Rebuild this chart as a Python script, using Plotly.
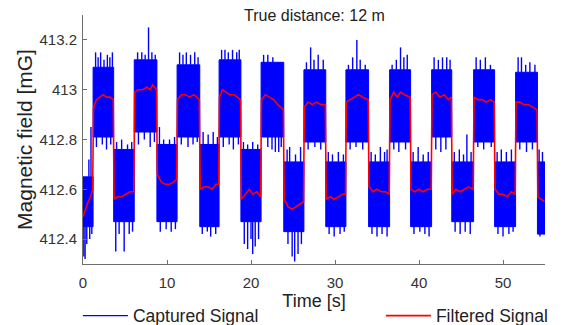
import numpy as np
import plotly.graph_objects as go

# ---- data ----
# segment boundaries (s): the captured signal alternates low / high levels
switch_t = [0.0, 1.2, 3.65, 6.1, 8.8, 11.2, 13.9, 16.2, 18.8, 21.2, 23.9, 26.3,
            28.9, 31.3, 34.0, 36.5, 39.0, 41.5, 43.9, 46.5, 49.0, 51.5, 54.1, 55.0]
# dense part of the captured signal in each segment (mG)
band_top = [412.65, 413.09, 412.76, 413.12, 412.78, 413.10, 412.78, 413.12, 412.76,
            413.11, 412.71, 413.08, 412.71, 413.08, 412.71, 413.08, 412.71, 413.08,
            412.71, 413.08, 412.71, 413.07, 412.71]
band_bot = [412.45, 412.81, 412.47, 412.83, 412.47, 412.81, 412.45, 412.81, 412.47,
            412.81, 412.43, 412.79, 412.45, 412.79, 412.45, 412.79, 412.45, 412.81,
            412.47, 412.79, 412.45, 412.79, 412.42]
# isolated excursions of the captured signal (time s, value mG)
spike_t = [0.7, 0.95, 0.1, 0.25, 0.45, 0.8, 1.05,
           1.5, 1.8, 2.1, 2.5, 2.9, 3.2, 3.5, 1.6, 2.3, 2.8, 3.3,
           4.0, 4.6, 5.3, 5.8, 3.9, 4.3, 4.9, 5.5, 5.9,
           6.5, 7.0, 7.4, 7.8, 8.2, 8.6, 6.6, 7.3, 8.0, 8.5,
           9.1, 9.6, 10.3, 10.9, 9.2, 9.9, 10.5, 11.0,
           11.5, 11.9, 12.3, 12.8, 13.3, 13.7, 11.7, 12.5, 13.1, 13.6,
           14.3, 14.9, 15.5, 16.0, 14.2, 14.8, 15.2, 15.8,
           16.5, 16.9, 17.3, 17.8, 18.3, 18.6, 16.7, 17.4, 17.9, 18.5,
           19.1, 19.6, 20.2, 20.8, 19.2, 19.6, 20.0, 20.2, 20.5, 20.9,
           21.5, 22.0, 22.6, 23.2, 22.0, 22.5, 22.9, 23.3, 23.6,
           24.3, 24.6, 25.3, 25.9, 24.4, 24.9, 25.2, 25.6, 26.0,
           26.6, 27.1, 27.5, 28.0, 28.6, 26.8, 27.6, 28.3,
           29.2, 29.7, 30.4, 31.0, 29.3, 29.9, 30.6, 31.1,
           31.6, 32.1, 32.6, 33.0, 33.6, 31.8, 32.5, 33.3,
           34.3, 34.8, 35.4, 35.9, 36.2, 34.4, 35.0, 35.6, 36.2,
           36.8, 37.3, 37.8, 38.2, 38.6, 37.0, 37.6, 38.4,
           39.3, 39.9, 40.5, 41.1, 39.4, 40.1, 40.7, 41.2,
           41.8, 42.3, 42.8, 43.3, 43.7, 42.0, 42.6, 43.2,
           44.2, 44.8, 45.3, 45.7, 46.2, 44.3, 44.9, 45.5, 46.1,
           46.8, 47.3, 47.9, 48.5, 47.0, 47.7, 48.6,
           49.3, 49.8, 50.4, 51.0, 49.4, 50.0, 50.7, 51.2,
           51.8, 52.2, 52.7, 53.2, 53.8, 52.0, 52.8, 53.5,
           54.3, 54.7, 54.4, 54.8]
spike_v = [412.72, 412.85, 412.33, 412.32, 412.38, 412.40, 412.42,
           413.15, 413.13, 413.15, 413.12, 413.14, 413.13, 413.15, 412.77, 412.78, 412.76, 412.78,
           412.79, 412.80, 412.78, 412.79, 412.35, 412.42, 412.35, 412.42, 412.43,
           413.15, 413.15, 413.14, 413.25, 413.15, 413.14, 412.78, 412.80, 412.77, 412.79,
           412.85, 412.80, 412.80, 412.81, 412.43, 412.44, 412.43, 412.44,
           413.15, 413.14, 413.15, 413.14, 413.15, 413.13, 412.78, 412.77, 412.78, 412.79,
           412.83, 412.82, 412.83, 412.81, 412.42, 412.43, 412.41, 412.42,
           413.16, 413.16, 413.15, 413.16, 413.15, 413.16, 412.77, 412.78, 412.76, 412.78,
           412.79, 412.78, 412.79, 412.78, 412.38, 412.36, 412.40, 412.34, 412.37, 412.40,
           413.14, 413.14, 413.13, 413.11, 412.77, 412.76, 412.75, 412.75, 412.77,
           412.76, 412.77, 412.74, 412.77, 412.38, 412.33, 412.31, 412.34, 412.38,
           413.11, 413.17, 413.12, 413.14, 413.12, 412.76, 412.77, 412.76,
           412.75, 412.74, 412.75, 412.74, 412.42, 412.41, 412.42, 412.43,
           413.10, 413.13, 413.20, 413.12, 413.10, 412.76, 412.77, 412.76,
           412.75, 412.74, 412.77, 412.75, 412.76, 412.42, 412.41, 412.42, 412.41,
           413.10, 413.12, 413.17, 413.13, 413.14, 412.76, 412.75, 412.76,
           412.75, 412.77, 412.74, 412.75, 412.42, 412.43, 412.42, 412.41,
           413.13, 413.12, 413.13, 413.13, 413.12, 412.76, 412.75, 412.76,
           412.75, 412.76, 412.74, 412.82, 412.75, 412.43, 412.42, 412.43, 412.42,
           413.13, 413.12, 413.13, 413.10, 412.77, 412.76, 412.77,
           412.75, 412.76, 412.75, 412.76, 412.42, 412.41, 412.42, 412.43,
           413.13, 413.13, 413.10, 413.11, 413.10, 412.76, 412.75, 412.76,
           412.76, 412.75, 412.41, 412.42]
# filtered signal
filt_t = [0.0, 0.3, 0.6, 0.9, 1.15,
          1.25, 1.6, 2.0, 2.4, 2.8, 3.2, 3.6,
          3.7, 4.1, 4.6, 5.1, 5.6, 6.05,
          6.15, 6.6, 7.1, 7.6, 8.0, 8.3, 8.75,
          8.85, 9.3, 9.8, 10.3, 10.8, 11.15,
          11.25, 11.7, 12.2, 12.7, 13.2, 13.85,
          13.95, 14.4, 14.9, 15.4, 15.8, 16.15,
          16.25, 16.6, 17.0, 17.5, 18.0, 18.4, 18.75,
          18.85, 19.3, 19.8, 20.2, 20.7, 21.15,
          21.25, 21.7, 22.2, 22.7, 23.2, 23.85,
          23.95, 24.4, 24.9, 25.4, 25.9, 26.25,
          26.35, 26.8, 27.3, 27.8, 28.3, 28.85,
          28.95, 29.4, 29.9, 30.4, 30.9, 31.25,
          31.35, 31.8, 32.3, 32.8, 33.3, 33.95,
          34.05, 34.5, 35.0, 35.5, 36.0, 36.45,
          36.55, 37.0, 37.4, 37.8, 38.3, 38.95,
          39.05, 39.5, 40.0, 40.5, 41.0, 41.45,
          41.55, 42.0, 42.5, 43.0, 43.5, 43.85,
          43.95, 44.4, 44.9, 45.4, 45.9, 46.45,
          46.55, 47.0, 47.5, 48.0, 48.5, 48.95,
          49.05, 49.5, 50.0, 50.5, 51.0, 51.45,
          51.55, 52.0, 52.5, 53.0, 53.5, 54.05,
          54.15, 54.5, 54.95]
filt_v = [412.49, 412.52, 412.55, 412.57, 412.60,
          412.93, 412.96, 412.97, 412.98, 412.97, 412.97, 412.96,
          412.56, 412.57, 412.57, 412.58, 412.59, 412.59,
          412.99, 413.00, 413.00, 413.01, 413.00, 413.02, 413.00,
          412.66, 412.63, 412.62, 412.62, 412.63, 412.64,
          412.96, 412.98, 412.98, 412.97, 412.98, 412.96,
          412.60, 412.61, 412.61, 412.60, 412.62, 412.62,
          412.97, 413.00, 412.99, 412.98, 412.98, 412.97, 412.96,
          412.56, 412.58, 412.60, 412.58, 412.59, 412.57,
          412.96, 412.98, 412.97, 412.96, 412.94, 412.92,
          412.56, 412.53, 412.52, 412.53, 412.54, 412.55,
          412.93, 412.95, 412.94, 412.95, 412.94, 412.94,
          412.56, 412.57, 412.56, 412.57, 412.58, 412.58,
          412.95, 412.96, 412.97, 412.98, 412.97, 412.96,
          412.61, 412.59, 412.60, 412.59, 412.59, 412.58,
          412.96, 412.99, 412.97, 412.99, 412.98, 412.97,
          412.60, 412.59, 412.60, 412.59, 412.60, 412.60,
          412.98, 412.99, 412.97, 412.98, 412.96, 412.97,
          412.58, 412.60, 412.59, 412.60, 412.61, 412.60,
          412.97, 412.96, 412.96, 412.95, 412.96, 412.95,
          412.60, 412.58, 412.58, 412.57, 412.59, 412.58,
          412.95, 412.95, 412.94, 412.94, 412.93, 412.92,
          412.57, 412.56, 412.55]

y_ticks = [412.4, 412.6, 412.8, 413.0, 413.2]
y_tick_text = ["412.4", "412.6", "412.8", "413", "413.2"]
x_ticks = [0, 10, 20, 30, 40, 50]

BLUE = "#0000ff"
RED = "#ff0000"
FONT = "Liberation Sans, Arial, sans-serif"
TXT = "#222222"

# ---- build geometry from data ----
bx, by = [], []
for i in range(len(band_top)):
    t0, t1 = switch_t[i], switch_t[i + 1]
    bx += [t0, t1, t1, t0, t0, None]
    by += [band_bot[i], band_bot[i], band_top[i], band_top[i], band_bot[i], None]

sx, sy = [], []
for t, v in zip(spike_t, spike_v):
    k = int(np.searchsorted(switch_t, t, side="right") - 1)
    k = min(max(k, 0), len(band_top) - 1)
    base = band_top[k] if v > band_top[k] else band_bot[k]
    sx += [t, t, None]
    sy += [base, v, None]

fig = go.Figure()
fig.add_trace(go.Scatter(x=bx, y=by, mode="lines", fill="toself", fillcolor=BLUE,
                         line=dict(color=BLUE, width=1), showlegend=False,
                         legendgroup="cap", hoverinfo="skip"))
fig.add_trace(go.Scatter(x=sx, y=sy, mode="lines", line=dict(color=BLUE, width=1.4),
                         name="Captured Signal", legendgroup="cap", legendwidth=243))
fig.add_trace(go.Scatter(x=filt_t, y=filt_v, mode="lines", line=dict(color=RED, width=1.6),
                         name="Filtered Signal"))

axis_common = dict(showline=True, linecolor="#6e6e6e", linewidth=1, ticks="inside",
                   ticklen=4, tickcolor="#6e6e6e", showgrid=False, zeroline=False,
                   tickfont=dict(family=FONT, size=15, color="#333333"))

# the page body adds an 8 px offset, so the figure is 8 px smaller than the window
fig.update_layout(
    width=559, height=317,
    margin=dict(l=75, r=22, t=7, b=61, autoexpand=False),
    paper_bgcolor="white", plot_bgcolor="white",
    font=dict(family=FONT, color=TXT),
    xaxis=dict(range=[0, 55], tickvals=x_ticks, ticklabelstandoff=5,
               title=dict(text="Time [s]", font=dict(family=FONT, size=18, color=TXT), standoff=3),
               **axis_common),
    yaxis=dict(range=[412.3, 413.3], tickvals=y_ticks, ticktext=y_tick_text, ticklabelstandoff=2,
               title=dict(text="Magnetic field [mG]", font=dict(family=FONT, size=21, color=TXT),
                          standoff=1),
               **axis_common),
    legend=dict(orientation="h", x=-0.011, xanchor="left", y=-0.208, yanchor="middle",
                font=dict(family=FONT, size=17.5, color=TXT),
                bgcolor="rgba(0,0,0,0)", itemwidth=45),
    annotations=[dict(text="True distance: 12 m", x=0.5, xref="paper", y=1.0, yref="paper",
                      yanchor="middle", xanchor="center", showarrow=False,
                      font=dict(family=FONT, size=16, color=TXT))],
)

fig.write_html("out.html")
